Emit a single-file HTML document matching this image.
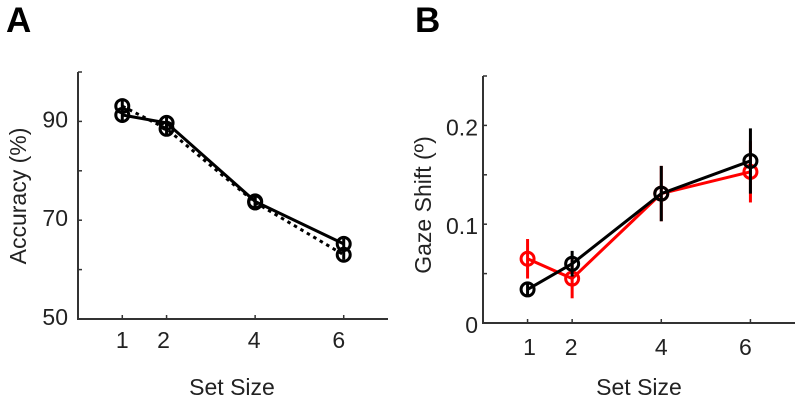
<!DOCTYPE html>
<html>
<head>
<meta charset="utf-8">
<style>
html,body{margin:0;padding:0;background:#fff;width:800px;height:405px;overflow:hidden}
svg{display:block;filter:blur(0.35px)}
text{font-family:"Liberation Sans",sans-serif;fill:#222}
</style>
</head>
<body>
<svg id="chart" width="800" height="405" viewBox="0 0 800 405" xmlns="http://www.w3.org/2000/svg"></svg>
<script>
var setSizes = [1, 2, 4, 6];
var accuracySolid = [91.3, 89.7, 73.8, 65.2];
var accuracySolidErr = [1.3, 1.3, 1.6, 1.0];
var accuracyDotted = [93.1, 88.5, 73.6, 63.0];
var accuracyDottedErr = [1.3, 1.3, 1.6, 1.0];
var gazeRed = [0.065, 0.045, 0.131, 0.153];
var gazeRedErr = [0.020, 0.020, 0.028, 0.031];
var gazeBlack = [0.034, 0.060, 0.131, 0.164];
var gazeBlackErr = [0.006, 0.013, 0.028, 0.033];
var accuracyTicks = [50, 60, 70, 80, 90, 100];
var accuracyLabels = [50, 70, 90];
var gazeTicks = [0, 0.05, 0.1, 0.15, 0.2, 0.25];
var gazeLabels = [0, 0.1, 0.2];

var NS = 'http://www.w3.org/2000/svg';
var svg = document.getElementById('chart');

function make(tag, attrs, parent, name) {
  var el = document.createElementNS(NS, tag);
  for (var k in attrs) el.setAttribute(k, attrs[k]);
  
  
  (parent || svg).appendChild(el);
  return el;
}
function label(str, x, y, size, anchor, parent, name, extra) {
  var attrs = {x: x, y: y, 'font-size': size, 'text-anchor': anchor};
  for (var k in (extra || {})) attrs[k] = extra[k];
  var t = make('text', attrs, parent, name);
  t.textContent = str;
  return t;
}
function linear(d0, d1, r0, r1) {
  return function (v) { return r0 + (v - d0) * (r1 - r0) / (d1 - d0); };
}

function drawPanel(p) {
  var g = make('g', {}, svg, p.id + '-panel');
  var x = linear(0, 7, p.left, p.right);
  var y = linear(p.yMin, p.yMax, p.bottom, p.top);
  var axisColor = '#333';

  make('line', {x1: p.left, y1: p.top, x2: p.left, y2: p.bottom + 1, stroke: axisColor, 'stroke-width': 2}, g, p.id + '-y-axis');
  make('line', {x1: p.left - 1, y1: p.bottom, x2: p.right, y2: p.bottom, stroke: axisColor, 'stroke-width': 2}, g, p.id + '-x-axis');

  p.yTicks.forEach(function (t) {
    make('line', {x1: p.left, y1: y(t), x2: p.left + 4, y2: y(t), stroke: axisColor, 'stroke-width': 1.5}, g, p.id + '-y-tick');
  });
  p.yLabels.forEach(function (t) {
    label(String(t), p.yLabelX, y(t) + p.labelShift, 23, 'end', g, p.id + '-y-tick-label');
  });
  setSizes.forEach(function (s, i) {
    make('line', {x1: x(s), y1: p.bottom, x2: x(s), y2: p.bottom - 4, stroke: axisColor, 'stroke-width': 1.5}, g, p.id + '-x-tick');
    label(String(s), x(s) + p.tickLabelNudge[i], p.tickLabelY, 23, 'middle', g, p.id + '-x-tick-label');
  });

  p.series.forEach(function (s) {
    var pts = s.values.map(function (v, i) { return x(setSizes[i]) + ',' + y(v); }).join(' ');
    make('polyline', {points: pts, fill: 'none', stroke: s.color, 'stroke-width': s.width,
      'stroke-dasharray': s.dash || 'none'}, g, s.name + '-line');
    s.values.forEach(function (v, i) {
      make('line', {x1: x(setSizes[i]), x2: x(setSizes[i]), y1: y(v - s.err[i]), y2: y(v + s.err[i]),
        stroke: s.color, 'stroke-width': 3}, g, s.name + '-error-bar');
      make('circle', {cx: x(setSizes[i]), cy: y(v), r: 6.5, fill: 'none', stroke: s.color, 'stroke-width': 3}, g, s.name + '-point');
    });
  });

  label('Set Size', p.xTitleX, 395, 23, 'middle', g, p.id + '-x-axis-title');
  label(p.yTitle, 0, 0, 23, 'middle', g, p.id + '-y-axis-title',
    {transform: 'translate(' + p.yTitleX + ',' + p.yTitleY + ') rotate(-90)'});
  label(p.letter, p.letterX, 32, 35, 'start', g, p.id + '-panel-letter', {'font-weight': 'bold', style: 'fill:#000'});
}

drawPanel({
  id: 'accuracy', letter: 'A', letterX: 6,
  left: 78, right: 388, top: 72, bottom: 319,
  yMin: 50, yMax: 100, yTicks: accuracyTicks, yLabels: accuracyLabels, labelShift: 6, yLabelX: 68,
  tickLabelY: 348, tickLabelNudge: [0, -3, -1, -5],
  xTitleX: 232, yTitle: 'Accuracy (%)', yTitleX: 26, yTitleY: 196,
  series: [
    {name: 'accuracy-dotted', values: accuracyDotted, err: accuracyDottedErr, color: '#000', width: 3, dash: '3.5 4'},
    {name: 'accuracy-solid', values: accuracySolid, err: accuracySolidErr, color: '#000', width: 3}
  ]
});

drawPanel({
  id: 'gaze', letter: 'B', letterX: 415,
  left: 483, right: 795, top: 76, bottom: 323,
  yMin: 0, yMax: 0.25, yTicks: gazeTicks, yLabels: gazeLabels, labelShift: 10, yLabelX: 478,
  tickLabelY: 355, tickLabelNudge: [2, -1, 0, -5],
  xTitleX: 639, yTitle: 'Gaze Shift (º)', yTitleX: 431, yTitleY: 205,
  series: [
    {name: 'gaze-red', values: gazeRed, err: gazeRedErr, color: '#f00', width: 3},
    {name: 'gaze-black', values: gazeBlack, err: gazeBlackErr, color: '#000', width: 3}
  ]
});
</script>
</body>
</html>
